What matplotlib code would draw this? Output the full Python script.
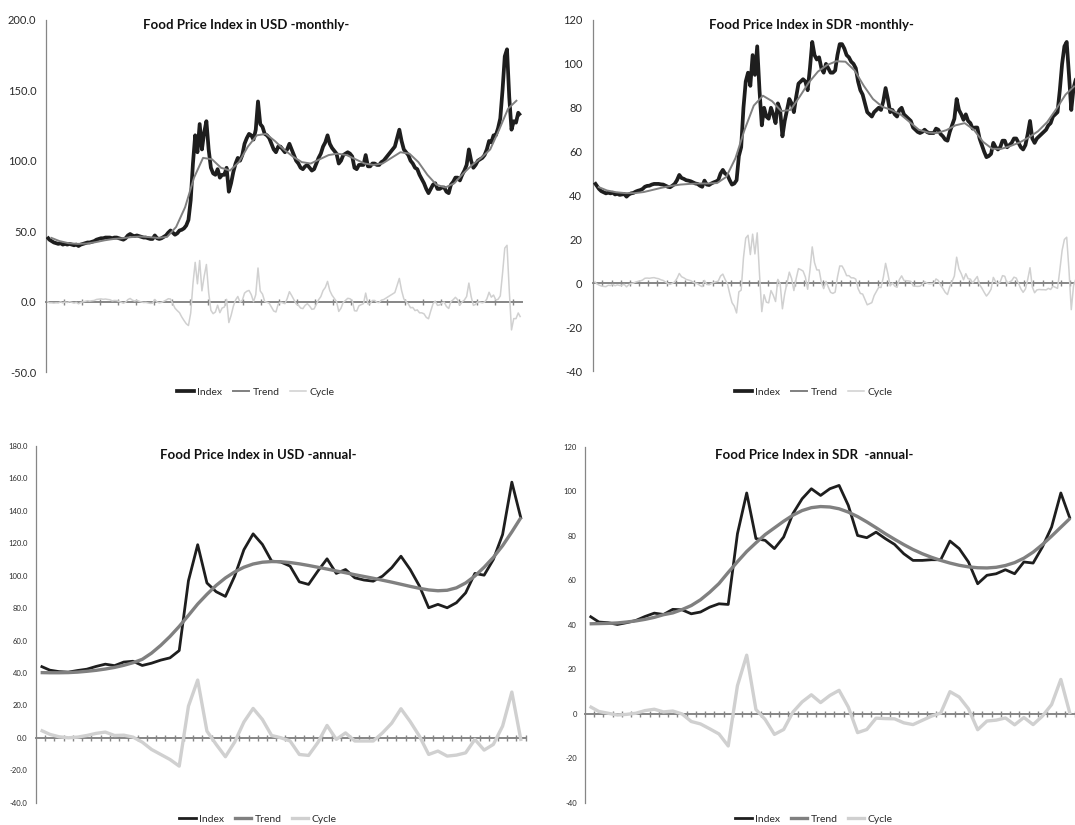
import numpy as np
import matplotlib
matplotlib.use('Agg')
import matplotlib.pyplot as plt
from matplotlib.lines import Line2D
from matplotlib.ticker import FixedLocator, FormatStrFormatter

plt.rcParams['font.family'] = ['Lato', 'DejaVu Sans']
plt.rcParams['axes.unicode_minus'] = False

# ---------------- DATA ----------------
LEGEND_LABELS = ['Index', 'Trend', 'Cycle']

# Monthly USD (values read every quarter, 53 years)
usd_m_index = [
    46, 44, 43, 42, 41.5, 41, 41.5, 40.5, 41, 40.5, 41, 40.5, 40, 40.5, 39.5, 40.5,
    41, 41.5, 42, 42, 42.5, 43, 44, 44.5, 45, 45, 45.5, 45.5, 45.5, 45, 45.5, 45.5,
    45, 44.5, 44, 45, 47, 48, 47, 46.5, 47, 46.5, 46, 45.5, 45.5, 45, 44.5, 44.5,
    47, 45, 44.5, 45, 46, 47, 49, 50.5, 49, 47.5, 48.5, 50.5, 51, 52, 54, 58,
    72, 98, 118, 106, 126, 108, 120, 128, 108, 95, 91, 90, 94, 88, 90, 90,
    95, 78, 84, 92, 98, 102, 100, 104, 112, 116, 119, 118, 115, 122, 142, 126,
    124, 119, 118, 116, 112, 108, 106, 110, 110, 108, 106, 108, 112, 108, 104, 100,
    98, 95, 94, 96, 97, 95, 93, 94, 98, 102, 105, 110, 113, 118, 112, 109,
    107, 105, 98, 100, 104, 105, 106, 105, 103, 95, 94, 97, 97, 97, 104, 96,
    96, 98, 98, 97, 97, 99, 100, 102, 104, 106, 108, 110, 116, 122, 114, 108,
    106, 104, 100, 98, 95, 94, 90, 87, 84, 80, 77, 80, 83, 84, 80, 80,
    81, 81, 78, 77, 83, 85, 88, 88, 86, 90, 93, 97, 108, 100, 95, 97,
    100, 101, 102, 104, 108, 114, 113, 118, 118, 123, 130, 150, 174, 179, 145, 122,
    128, 127, 134, 132]
usd_m_trend = [  # one value per year (mid-year)
    45.5, 43, 41.5, 41, 41.2, 42.2, 43.5, 44.5, 45, 45.8, 46.2, 45.8, 45.2, 46,
    53, 67, 88, 102, 101, 95, 93, 99, 110, 118, 119, 114, 108, 103, 99, 98, 101,
    104, 105, 104, 101, 98, 97, 98, 102, 106, 105, 99, 90, 83, 81, 84, 91, 97,
    102, 108, 122, 137, 143]
usd_m_cycle = [
    0.2, -0.8, -0.8, -1, -0.8, -0.9, -0.1, -0.9, -0.2, -0.6, 0, -0.5, -1, -0.5, -1.5, -0.6,
    -0.1, 0.3, 0.7, 0.4, 0.7, 0.9, 1.6, 1.8, 2, 1.7, 1.9, 1.6, 1.4, 0.6, 0.9, 0.8,
    0.2, -0.4, -1.1, -0.3, 1.5, 2.3, 1.1, 0.5, 0.9, 0.3, -0.2, -0.6, -0.5, -0.9, -1.2, -1.1,
    1.6, -0.3, -0.8, -0.5, 0.3, 1.1, 2.1, 1.9, -1.4, -4.6, -6.3, -7.8, -10.8, -13.3, -15.6, -16.9,
    -8.1, 12.6, 27.9, 12.7, 29.2, 7.7, 18, 26.4, 6.6, -6.1, -8.5, -7.3, -2.5, -7.8, -4.5, -3.8,
    1.7, -14.8, -9.8, -3.3, 1.2, 3.7, -0.4, 0.9, 6.1, 7.4, 8, 5, 0, 5, 23.9, 7.6,
    5.4, 0.1, -0.4, -1.1, -3.9, -6.6, -7.3, -1.8, -0.3, -0.8, -1.4, 2.2, 7.1, 4.4, 1.5, -1.5,
    -2.5, -4.5, -4.9, -2.6, -1.4, -3.1, -5.4, -5.1, -1.9, 1.4, 3.6, 7.9, 10.1, 14.4, 7.9, 4.6,
    2.4, 0.1, -6.9, -4.6, -0.4, 0.9, 2.4, 2.1, 0.9, -6.4, -6.6, -2.9, -2.1, -1.4, 6.1, -1.6,
    -1.4, 0.9, 0.9, -0.4, -0.6, 1.1, 1.5, 2.5, 3.5, 4.5, 5.5, 6.5, 11.5, 16.5, 8, 2,
    0.1, -1.6, -4.3, -4.1, -6.3, -5.8, -7.9, -7.9, -8.6, -11.1, -12.1, -6.6, -1.6, 0.5, -2.6, -2.3,
    -0.8, -0.3, -3.4, -4.8, 0.1, 1.4, 3.1, 1.4, -2.4, -0.1, 1.2, 3.7, 13.2, 3.7, -2.6, -1.9,
    -0.1, -0.4, -0.8, -0.3, 1.9, 6.7, 3.2, 4.7, 1.2, 1.7, 4.1, 20, 38, 40, 8, -20,
    -12, -12, -8, -11]

# Monthly SDR (values read every quarter, 53 years)
sdr_m_index = [
    46, 44.5, 43, 42, 41.5, 41, 41.3, 41, 41.3, 40.5, 40.8, 40.3, 40.5, 40.7, 39.5, 40.5,
    41, 41.2, 41.8, 42.2, 42.5, 43, 44, 44.4, 44.5, 45, 45.3, 45.3, 45.3, 45.1, 45, 44.5,
    44, 43.8, 44.5, 45.3, 47, 49.4, 48, 47.6, 47, 46.8, 46.5, 46, 45.5, 45.3, 44.5, 44,
    46.8, 45, 44.8, 45.5, 46, 46.4, 47, 50, 51.7, 50, 49.4, 47, 45, 45.5, 47, 58,
    62, 80, 92, 96, 90, 104, 95, 108, 88, 72, 80, 76, 75, 80, 77, 73,
    82, 79, 67, 74, 79, 84, 82, 78, 85, 91, 92, 93, 92, 88, 98, 110,
    104, 102, 103, 98, 96, 100, 98, 96, 96, 97, 104, 109, 109, 107, 104, 103,
    101, 100, 98, 92, 88, 86, 82, 78, 77, 76, 78, 79, 80, 79, 83, 89,
    84, 78, 79, 77, 76, 79, 80, 77, 76, 75, 74, 71, 70, 69, 68.5, 69,
    70, 69, 68.5, 68.5, 68.5, 70.5, 70, 68, 67, 65.5, 65, 69, 72, 75, 84, 79,
    77, 74.5, 77, 74, 73, 70.5, 71, 71, 66, 63, 60, 57.5, 58, 59, 64, 62,
    61, 62, 65, 65, 62, 63, 64, 66, 66, 64, 62, 61, 63, 68, 74, 66,
    64, 66, 67, 68, 69, 70, 72, 73, 76, 77, 78, 88, 100, 108, 110, 95,
    79, 89, 93, 93]
sdr_m_trend = [  # one value per year (mid-year)
    44, 42.3, 41.5, 41.1, 41.1, 41.6, 42.6, 43.6, 44.4, 45, 45.3, 45.5, 45.5, 45.7,
    48.5, 57, 70, 81, 85.5, 83, 78.5, 79, 85, 91.5, 96.5, 99.5, 101.2, 101, 97, 90,
    84, 80.5, 79, 77, 73.5, 70, 68.7, 68.5, 69.8, 72, 73, 70, 64.5, 61.3, 61.3,
    62.6, 64.2, 66.5, 69.3, 73.5, 79.5, 86, 90]
sdr_m_cycle = [
    0.9, -0.2, -0.8, -1.2, -1.4, -1.5, -0.9, -1, -0.5, -1.1, -0.7, -1, -0.8, -0.5, -1.6, -0.6,
    -0.1, 0.1, 0.6, 0.9, 1.1, 1.5, 2.3, 2.4, 2.3, 2.5, 2.6, 2.3, 2.1, 1.6, 1.3, 0.6,
    -0.1, -0.5, 0, 0.7, 2.2, 4.5, 3, 2.5, 1.8, 1.5, 1.2, 0.6, 0.1, -0.2, -1, -1.5,
    1.3, -0.5, -0.7, -0.1, 0.4, 0.7, 1, 3.3, 4.2, 1.8, -0.2, -4.7, -8.8, -10.4, -13.5, -3.9,
    -3.1, 11.6, 20.6, 21.9, 13.1, 22.4, 13.4, 23, 4.2, -12.9, -5.2, -8.6, -8.9, -3.3, -5.4, -8.3,
    1.8, -0.1, -11.6, -4.7, 0.2, 5.1, 2.2, -3.3, 2.2, 6.7, 6.2, 5.6, 2.9, -2.7, 5.9, 16.6,
    9.4, 6.1, 6.1, 0.4, -2.4, 0.9, -1.7, -4.1, -4.6, -4, 2.8, 7.9, 7.9, 6, 3.5, 3.5,
    2.5, 2.5, 1.9, -2.4, -4.6, -4.9, -7.3, -9.8, -9.3, -8.8, -5.6, -3.7, -1.8, -1.9, 2.7, 9.1,
    4.4, -1.2, 0.2, -1.3, -1.8, 1.7, 3.4, 1.3, 1.2, 1.1, 0.9, -1.2, -1.3, -1.4, -1.3, -0.5,
    0.8, 0.1, -0.2, -0.1, -0.1, 2, 1.3, -1, -2.3, -4.1, -5.1, -1.6, 0.8, 3.3, 11.9, 6.6,
    4.4, 1.6, 4.4, 2.1, 1.9, 0.1, 1.7, 3.1, -0.6, -2.2, -4.1, -5.8, -4.5, -2.7, 2.7, 0.7,
    -0.3, 0.7, 3.5, 3.2, -0.1, 0.6, 1.2, 2.8, 2.4, 0, -2.5, -4.1, -2.6, 1.8, 7.1, -1.6,
    -4.3, -3, -2.8, -2.9, -2.9, -3, -2.3, -2.8, -1.3, -1.8, -2.3, 6, 15, 20, 21, 6,
    -12, -1, 2, 1]

# Annual USD (53 years)
usd_a_index = [
    44.2, 41.7, 40.8, 40.5, 41.5, 42.3, 44, 45.4, 44.5, 46.7, 47.2, 44.6, 46, 47.9,
    49.3, 53.8, 96.9, 119.1, 95.5, 90.1, 87.2, 99.7, 116, 125.8, 119.3, 109, 108.4,
    105.9, 96.2, 94.6, 102.8, 110.4, 101.4, 103.8, 98.7, 97.3, 96.6, 99.7, 104.9,
    112, 103.8, 93.6, 80.2, 82.3, 80.2, 83.3, 89.4, 101.4, 100.3, 110, 125.4, 157.7, 135]
usd_a_trend = [
    40.2, 40.1, 40.1, 40.2, 40.5, 41, 41.6, 42.4, 43.4, 44.7, 46.3, 48.4, 52.2, 57,
    62.5, 68.7, 75.5, 82.5, 88.5, 94, 98.6, 102.3, 105.2, 107.2, 108.3, 108.7, 108.6,
    108.1, 107.3, 106.3, 105.2, 104.1, 102.9, 101.8, 100.6, 99.5, 98.4, 97.2, 96,
    94.7, 93.4, 92.2, 91.2, 90.7, 91, 92.5, 95.5, 99.8, 105.2, 111.3, 118.5, 127, 136]
usd_a_cycle = [
    4.7, 2.1, 0.6, 0, 0.4, 1.4, 2.7, 3.5, 1.4, 1.6, 0.4, -2.7, -7.2, -10.3, -13.4,
    -17.5, 19.5, 35.6, 4.1, -4.1, -11.7, -2.7, 9.7, 18.1, 11.3, 1.4, 0, -2, -10.3,
    -10.9, -3, 7.6, -1, 3, -2, -2, -2, 3, 9, 17.9, 10, 1, -10.3, -8.2, -11.3, -10.7,
    -9.3, -1, -7.6, -4.1, 7.2, 28.2, -2]

# Annual SDR (53 years)
sdr_a_index = [
    43.9, 41.2, 40.9, 40.1, 40.9, 41.9, 43.7, 45.2, 44.6, 46.9, 46.7, 44.9, 45.7, 47.9,
    49.4, 49.1, 80.9, 99.2, 78.7, 77.9, 74.2, 79.4, 89.9, 96.6, 101.1, 98.1, 101.1,
    102.6, 93.6, 80.1, 79.1, 81.6, 78.7, 76.1, 71.9, 68.9, 68.9, 69.2, 69.2, 77.6,
    74.2, 68.2, 58.4, 62.2, 62.9, 64.7, 62.9, 68.2, 67.7, 74.9, 83.9, 99.2, 87.6]
sdr_a_trend = [
    40.4, 40.5, 40.6, 40.8, 41.2, 41.7, 42.4, 43.3, 44.5, 45.3, 46.8, 48.6, 51.2, 54.6,
    58.5, 63.5, 68.3, 72.9, 76.8, 80.5, 83.5, 86.5, 89.2, 91.3, 92.6, 93.1, 92.9,
    92.1, 90.6, 88.6, 86.2, 83.6, 80.9, 78.4, 76, 73.8, 71.9, 70.3, 68.9, 67.7, 66.7,
    66, 65.6, 65.5, 65.8, 66.6, 67.9, 69.9, 72.6, 76, 79.8, 83.8, 87.8]
sdr_a_cycle = [
    3.3, 1.0, 0.2, -0.6, -0.3, 0.2, 1.4, 2.0, 0.8, 1.2, -0.1, -3.5, -4.6, -6.8, -9.1,
    -14.5, 12.6, 26.3, 1.9, -2.6, -9.3, -7.1, 0.7, 5.3, 8.5, 5.0, 8.2, 10.5, 3.0,
    -8.5, -7.1, -2.0, -2.2, -2.3, -4.1, -4.9, -3.0, -1.1, 0.3, 9.9, 7.5, 2.2, -7.2,
    -3.3, -2.9, -1.9, -5.0, -1.7, -4.9, -1.1, 4.1, 15.4, -0.2]

TITLES = ['Food Price Index in USD -monthly-', 'Food Price Index in SDR -monthly-',
          'Food Price Index in USD -annual-', 'Food Price Index in SDR  -annual-']

# ---------------- STYLE ----------------
C_INDEX = '#1e1e1e'
C_TREND = '#808080'
C_CYCLE = '#d0d0d0'
C_AXIS = '#868686'
C_TEXT = '#2a2a2a'

W, H = 1075, 825
fig = plt.figure(figsize=(W / 100, H / 100), dpi=100)


def px_rect(x0, y_top, x1, y_bot):
    return [x0 / W, 1 - y_bot / H, (x1 - x0) / W, (y_bot - y_top) / H]


def panel(box, n_cat, series, ylim, ystep, yfmt, xticks, ylab_size, ypad,
          title, title_xy, legend_xy, lws):
    ax = fig.add_axes(px_rect(*box))
    for (x, y, c), lw in zip(series, lws):
        ax.plot(x, y, color=c, lw=lw, solid_joinstyle='round',
                solid_capstyle='butt', zorder=3)
    ax.set_xlim(0, n_cat)
    ax.set_ylim(*ylim)
    ax.set_facecolor('none')
    for s in ('top', 'right'):
        ax.spines[s].set_visible(False)
    ax.spines['left'].set_color(C_AXIS)
    ax.spines['left'].set_linewidth(0.9)
    ax.spines['bottom'].set_position(('data', 0))
    ax.spines['bottom'].set_color(C_AXIS)
    ax.spines['bottom'].set_linewidth(1.4)
    ax.spines['bottom'].set_zorder(2)
    ax.xaxis.set_major_locator(FixedLocator(xticks))
    ax.tick_params(axis='x', direction='inout', length=4.5, width=1.0,
                   color=C_AXIS, labelbottom=False)
    ax.yaxis.set_major_locator(FixedLocator(np.arange(ylim[0], ylim[1] + 0.01, ystep)))
    ax.yaxis.set_major_formatter(FormatStrFormatter(yfmt))
    ax.tick_params(axis='y', length=0, labelsize=ylab_size, labelcolor=C_TEXT,
                   pad=ypad)
    fig.text(title_xy[0] / W, 1 - title_xy[1] / H, title, ha='center',
             va='center', fontsize=9.5, fontweight='bold', color='#111111')
    handles = [Line2D([], [], color=c, lw=lw) for (_, _, c), lw in zip(series, lws)]
    fig.legend(handles, LEGEND_LABELS, loc='center',
               bbox_to_anchor=(legend_xy[0] / W, 1 - legend_xy[1] / H),
               ncol=3, frameon=False, fontsize=7.5, handlelength=1.6,
               handletextpad=0.3, columnspacing=1.0, labelcolor=C_TEXT)
    return ax


# monthly positions (categories = months)
n_m = 53 * 12
xq_usd = np.arange(len(usd_m_index)) * 3 + 1.5
xy_usd = np.arange(len(usd_m_trend)) * 12 + 6
xq_sdr = np.arange(len(sdr_m_index)) * 3 + 1.5
xy_sdr = np.arange(len(sdr_m_trend)) * 12 + 6
n_a = len(usd_a_index)
xa = np.arange(n_a) + 0.5

panel((46, 19.7, 521.6, 372.2), n_m,
      [(xq_usd, usd_m_index, C_INDEX), (xy_usd, usd_m_trend, C_TREND),
       (xq_usd, usd_m_cycle, C_CYCLE)],
      (-50, 200), 50, '%.1f', np.arange(24, n_m, 24), 8, 7,
      TITLES[0], (246, 25), (256, 392), (2.7, 1.4, 1.1))

panel((593.3, 20.0, 1079.3, 371.1), n_m,
      [(xq_sdr, sdr_m_index, C_INDEX), (xy_sdr, sdr_m_trend, C_TREND),
       (xq_sdr, sdr_m_cycle, C_CYCLE)],
      (-40, 120), 20, '%d', np.arange(12, n_m + 1, 12), 8, 8,
      TITLES[1], (811, 25), (814, 392), (2.7, 1.4, 1.1))

panel((36, 446, 525.7, 802.6), n_a,
      [(xa, usd_a_index, C_INDEX), (xa, usd_a_trend, C_TREND),
       (xa, usd_a_cycle, C_CYCLE)],
      (-40, 180), 20, '%.1f', np.arange(1, n_a + 1), 5.5, 6,
      TITLES[2], (258, 455), (258, 819), (2.0, 2.4, 2.4))

panel((585, 446.7, 1074.7, 802.7), n_a,
      [(xa, sdr_a_index, C_INDEX), (xa, sdr_a_trend, C_TREND),
       (xa, sdr_a_cycle, C_CYCLE)],
      (-40, 120), 20, '%d', np.arange(1, n_a + 1), 5.5, 6,
      TITLES[3], (814, 455), (814, 819), (2.0, 2.4, 2.4))

fig.savefig('out.png', dpi=100, facecolor='white')
